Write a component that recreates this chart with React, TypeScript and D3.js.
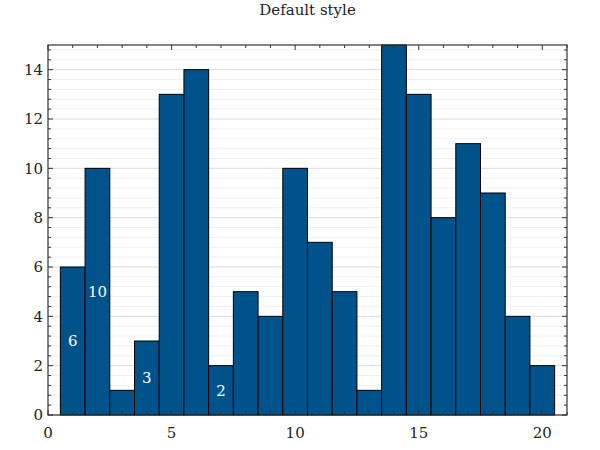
import React from "react";
import * as d3 from "d3";

const binCenters = [1, 2, 3, 4, 5, 6, 7, 8, 9, 10, 11, 12, 13, 14, 15, 16, 17, 18, 19, 20];
const counts = [6, 10, 1, 3, 13, 14, 2, 5, 4, 10, 7, 5, 1, 15, 13, 8, 11, 9, 4, 2];
const labeledBins = [1, 2, 4, 7];
const xTicks = [0, 5, 10, 15, 20];
const yTicks = [0, 2, 4, 6, 8, 10, 12, 14];
const title = "Default style";

const W = 600, H = 450;
const M = { left: 48, right: 33, top: 45, bottom: 35 };
const FONT = "DejaVu Serif";

export default function App() {
  const x = d3.scaleLinear().domain([0, 21]).range([M.left, W - M.right]);
  const y = d3.scaleLinear().domain([0, 15]).range([H - M.bottom, M.top]);
  const x0 = M.left, x1 = W - M.right, y0 = H - M.bottom, y1 = M.top;
  const minorY = d3.range(0, 15.001, 0.4).filter((v) => Math.abs(v / 2 - Math.round(v / 2)) > 1e-6);
  const minorX = d3.range(0, 21.001, 1).filter((v) => v % 5 !== 0);
  const axisColor = "#333";
  const ts = { fontFamily: FONT, fontSize: 15 };
  return (
    <svg width={W} height={H} style={{ position: "absolute", left: 0, top: 0, background: "#fff" }}>
      <text x={(x0 + x1) / 2} y={15} textAnchor="middle" style={ts} fill="#222">{title}</text>
      {minorY.map((v) => (
        <line key={"gm" + v} x1={x0} x2={x1} y1={y(v)} y2={y(v)} stroke="#f0f0f0" strokeWidth={1} />
      ))}
      {yTicks.map((v) => (
        <line key={"gM" + v} x1={x0} x2={x1} y1={y(v)} y2={y(v)} stroke="#dcdcdc" strokeWidth={1} />
      ))}
      {binCenters.map((c, i) => (
        <rect key={"b" + c} x={x(c - 0.5)} y={y(counts[i])} width={x(c + 0.5) - x(c - 0.5)} height={y(0) - y(counts[i])}
          fill="#00538a" stroke="#000" strokeWidth={1} />
      ))}
      {labeledBins.map((c) => {
        const v = counts[binCenters.indexOf(c)];
        return (
          <text key={"l" + c} x={x(c)} y={y(v / 2)} dy="0.35em" textAnchor="middle" style={ts} fill="#fff">{v}</text>
        );
      })}
      <rect x={x0} y={y1} width={x1 - x0} height={y0 - y1} fill="none" stroke={axisColor} strokeWidth={1.2} />
      {yTicks.map((v) => (
        <g key={"yt" + v}>
          <line x1={x0} x2={x0 + 5} y1={y(v)} y2={y(v)} stroke={axisColor} />
          <line x1={x1} x2={x1 - 5} y1={y(v)} y2={y(v)} stroke={axisColor} />
          <text x={x0 - 5} y={y(v)} dy="0.35em" textAnchor="end" style={ts} fill="#222">{v}</text>
        </g>
      ))}
      {minorY.map((v) => (
        <g key={"ym" + v}>
          <line x1={x0} x2={x0 + 3} y1={y(v)} y2={y(v)} stroke={axisColor} />
          <line x1={x1} x2={x1 - 3} y1={y(v)} y2={y(v)} stroke={axisColor} />
        </g>
      ))}
      {xTicks.map((v) => (
        <g key={"xt" + v}>
          <line x1={x(v)} x2={x(v)} y1={y0} y2={y0 - 5} stroke={axisColor} />
          <line x1={x(v)} x2={x(v)} y1={y1} y2={y1 + 5} stroke={axisColor} />
          <text x={x(v)} y={y0 + 18} dy="0.35em" textAnchor="middle" style={ts} fill="#222">{v}</text>
        </g>
      ))}
      {minorX.map((v) => (
        <g key={"xm" + v}>
          <line x1={x(v)} x2={x(v)} y1={y0} y2={y0 - 3} stroke={axisColor} />
          <line x1={x(v)} x2={x(v)} y1={y1} y2={y1 + 3} stroke={axisColor} />
        </g>
      ))}
    </svg>
  );
}
